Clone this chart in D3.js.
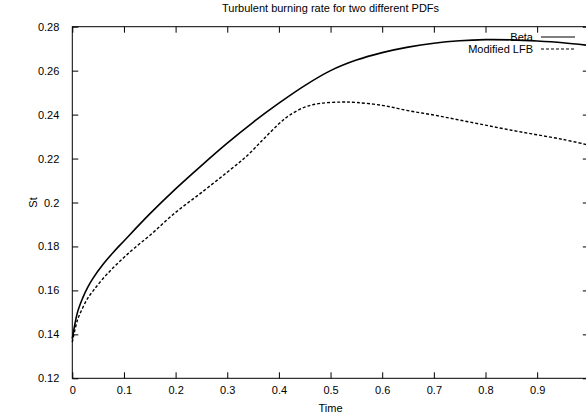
<!DOCTYPE html>
<html>
<head>
<meta charset="utf-8">
<script src="https://cdn.jsdelivr.net/npm/d3@7/dist/d3.min.js"></script>
<style>
  html, body { margin: 0; padding: 0; background: #fff; }
  svg { display: block; }
  text { font-family: "Liberation Sans", Arial, Helvetica, sans-serif; font-size: 11px; fill: #000; }
</style>
</head>
<body>
<svg id="chart" width="586" height="418"></svg>
<script>
const title = "Turbulent burning rate for two different PDFs";
const xLabel = "Time";
const yLabel = "St";
const xTicks = [0, 0.1, 0.2, 0.3, 0.4, 0.5, 0.6, 0.7, 0.8, 0.9];
const yTicks = [0.12, 0.14, 0.16, 0.18, 0.2, 0.22, 0.24, 0.26, 0.28];
const seriesNames = ["Beta", "Modified LFB"];

const betaTime = [0, 0.01, 0.02, 0.03, 0.04, 0.06, 0.08, 0.1, 0.15, 0.2, 0.25, 0.3, 0.35, 0.4, 0.45, 0.5, 0.55, 0.6, 0.65, 0.7, 0.75, 0.8, 0.85, 0.9, 0.95, 0.995];
const betaSt   = [0.138, 0.1500, 0.1565, 0.1615, 0.1655, 0.1720, 0.1775, 0.1825, 0.1948, 0.2062, 0.2168, 0.2270, 0.2365, 0.2452, 0.2532, 0.2600, 0.2648, 0.2682, 0.2707, 0.2725, 0.2736, 0.2741, 0.2740, 0.2735, 0.2727, 0.2716];

const lfbTime = [0, 0.01, 0.02, 0.03, 0.041, 0.06, 0.08, 0.1, 0.12, 0.15, 0.2, 0.25, 0.3, 0.338, 0.37, 0.4, 0.42, 0.45, 0.48, 0.52, 0.55, 0.6, 0.65, 0.7, 0.75, 0.8, 0.85, 0.9, 0.95, 0.995];
const lfbSt   = [0.1365, 0.1465, 0.1520, 0.1565, 0.1600, 0.1655, 0.1705, 0.1750, 0.1792, 0.1850, 0.1955, 0.2045, 0.2138, 0.2212, 0.2288, 0.2358, 0.2396, 0.2434, 0.2451, 0.2457, 0.2455, 0.2442, 0.2418, 0.2398, 0.2375, 0.2352, 0.2329, 0.2308, 0.2287, 0.2264];

const svg = d3.select("#chart");
const mLeft = 72.3, mRight = 588.8, mTop = 26.7, mBottom = 378.3;

const x = d3.scaleLinear().domain([0, 1]).range([mLeft, mRight]);
const y = d3.scaleLinear().domain([0.12, 0.28]).range([mBottom, mTop]);

// frame
svg.append("rect").attr("x", mLeft).attr("y", mTop)
  .attr("width", mRight - mLeft).attr("height", mBottom - mTop)
  .attr("fill", "none").attr("stroke", "#000").attr("stroke-width", 1);

const tickLen = 6;
// x axis bottom
const xAxis = d3.axisBottom(x).tickValues(xTicks).tickSizeInner(-tickLen).tickSizeOuter(0).tickPadding(10)
  .tickFormat(d => d3.format("~g")(d));
const gx = svg.append("g").attr("transform", `translate(0,${mBottom})`).call(xAxis);
gx.select(".domain").remove();
gx.selectAll("text").style("font-family", "'Liberation Sans', Arial, sans-serif").style("font-size", "11px").attr("dy", "0.71em").attr("y", 8);
// x axis top mirror
const gxt = svg.append("g").attr("transform", `translate(0,${mTop})`)
  .call(d3.axisTop(x).tickValues(xTicks).tickSizeInner(-tickLen).tickSizeOuter(0).tickFormat(""));
gxt.select(".domain").remove();

// y axis left
const yAxis = d3.axisLeft(y).tickValues(yTicks).tickSizeInner(-tickLen).tickSizeOuter(0).tickPadding(13)
  .tickFormat(d => d3.format("~g")(d));
const gy = svg.append("g").attr("transform", `translate(${mLeft},0)`).call(yAxis);
gy.select(".domain").remove();
gy.selectAll("text").style("font-family", "'Liberation Sans', Arial, sans-serif").style("font-size", "11px");
// y axis right mirror
const gyr = svg.append("g").attr("transform", `translate(${mRight},0)`)
  .call(d3.axisRight(y).tickValues(yTicks).tickSizeInner(-tickLen).tickSizeOuter(0).tickFormat(""));
gyr.select(".domain").remove();

svg.selectAll(".tick line").attr("stroke", "#000");

// title & labels
svg.append("text").attr("x", (mLeft + mRight) / 2).attr("y", 12).attr("text-anchor", "middle").text(title);
svg.append("text").attr("x", (mLeft + mRight) / 2).attr("y", 412).attr("text-anchor", "middle").text(xLabel);
svg.append("text").attr("transform", `translate(37,${(mTop + mBottom) / 2}) rotate(-90)`).attr("text-anchor", "middle").text(yLabel);

// lines
const line = d3.line().x(d => x(d[0])).y(d => y(d[1])).curve(d3.curveCatmullRom.alpha(0.5));
const betaData = betaTime.map((t, i) => [t, betaSt[i]]);
const lfbData = lfbTime.map((t, i) => [t, lfbSt[i]]);

svg.append("path").datum(betaData).attr("d", line)
  .attr("fill", "none").attr("stroke", "#000").attr("stroke-width", 1.6);
svg.append("path").datum(lfbData).attr("d", line)
  .attr("fill", "none").attr("stroke", "#000").attr("stroke-width", 1.4).attr("stroke-dasharray", "3,2");

// legend
const legend = svg.append("g");
const styles = [{dash: null, w: 1.2}, {dash: "3,2", w: 1.2}];
seriesNames.forEach((name, i) => {
  const ly = 37 + i * 12;
  legend.append("text").attr("x", 533).attr("y", ly).attr("dy", "0.35em").attr("text-anchor", "end").text(name);
  legend.append("line").attr("x1", 541).attr("x2", 575).attr("y1", ly).attr("y2", ly)
    .attr("stroke", "#000").attr("stroke-width", styles[i].w)
    .attr("stroke-dasharray", styles[i].dash);
});
</script>
</body>
</html>
